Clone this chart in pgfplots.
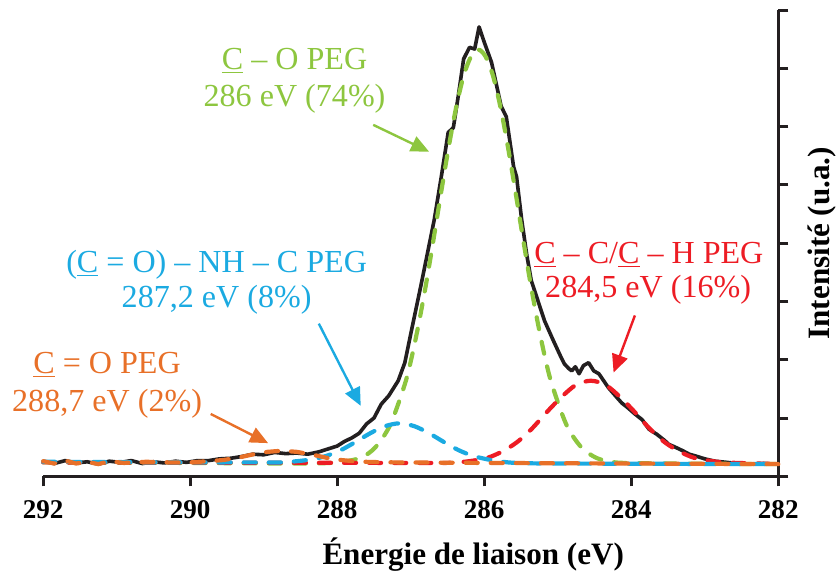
\documentclass[border=0pt]{standalone}
\usepackage{fontspec}
\setmainfont{Liberation Serif}
\usepackage{pgfplots}
\pgfplotsset{compat=1.18}
\usetikzlibrary{arrows.meta}
\definecolor{cgreen}{RGB}{141,198,63}
\definecolor{ccyan}{RGB}{27,170,225}
\definecolor{cred}{RGB}{237,28,36}
\definecolor{corange}{RGB}{232,112,40}
\definecolor{cblack}{RGB}{35,31,32}
\newcommand{\annfont}{\fontsize{16}{19}\selectfont}
\begin{document}
\begin{tikzpicture}
\begin{axis}[
 width=366.5pt, height=232.5pt, scale only axis,
 x dir=reverse, xmin=282, xmax=292, ymin=0, ymax=8,
 axis x line=bottom, axis y line=right,
 axis line style={-, line width=1.5pt, cblack},
 xtick={282,284,...,292}, ytick={0,1,...,8}, yticklabels={},
 tick align=outside, major tick length=5pt,
 tick style={line width=1.5pt, cblack},
 /pgf/number format/assume math mode=true,
 /pgf/number format/1000 sep={},
 xticklabel style={font=\bfseries\fontsize{13.5}{15}\selectfont, yshift=-3.5pt},
 xlabel={Énergie de liaison (eV)},
 xlabel style={font=\bfseries\fontsize{15.5}{18}\selectfont, inner sep=0pt, at={(axis description cs:0.585,-0.189)}, anchor=base},
 ylabel={Intensité (u.a.)},
 ylabel style={font=\bfseries\fontsize{15.5}{18}\selectfont, inner sep=0pt, at={(axis description cs:1.0396,0.5)}, anchor=north},
 clip=false,
 dashcurve/.style={line width=2.1pt, line cap=round, dash pattern=on 6pt off 6.5pt},
]
\path (axis description cs:-0.0587,-0.2086) rectangle (axis description cs:1.0532,1.0215);
% experimental spectrum
\addplot[cblack, line width=1.8pt, line join=round] coordinates {
(292.00,0.26)(291.85,0.22)(291.70,0.27)(291.55,0.23)(291.40,0.25)(291.25,0.21)
(291.10,0.26)(290.95,0.24)(290.80,0.27)(290.65,0.22)(290.50,0.25)(290.35,0.23)
(290.20,0.26)(290.05,0.24)(289.90,0.27)(289.75,0.27)(289.60,0.30)(289.45,0.31)
(289.30,0.34)(289.15,0.38)(289.00,0.37)(288.85,0.41)(288.70,0.39)(288.55,0.40)
(288.40,0.38)(288.25,0.42)(288.10,0.48)(288.00,0.52)(287.90,0.60)(287.80,0.66)
(287.70,0.74)(287.60,0.90)(287.50,1.00)(287.40,1.24)(287.30,1.38)(287.17,1.64)
(287.08,1.95)(286.99,2.50)(286.86,3.28)(286.68,4.40)(286.58,5.17)(286.49,5.90)
(286.42,5.98)(286.35,6.55)(286.28,7.16)(286.20,7.36)(286.13,7.33)(286.07,7.71)
(286.00,7.45)(285.90,7.10)(285.77,6.35)(285.70,6.17)(285.60,5.31)(285.56,5.14)
(285.49,4.40)(285.42,3.79)(285.36,3.36)(285.18,2.67)(285.06,2.33)(284.95,2.03)
(284.91,1.93)(284.85,1.85)(284.81,1.81)(284.76,1.88)(284.71,1.76)(284.65,1.90)
(284.58,1.95)(284.51,1.81)(284.44,1.76)(284.31,1.52)(284.20,1.36)(284.13,1.26)
(284.05,1.18)(283.95,1.07)(283.85,0.97)(283.76,0.81)(283.65,0.72)(283.55,0.62)
(283.49,0.55)(283.40,0.50)(283.30,0.44)(283.21,0.38)(283.10,0.34)(283.00,0.30)
(282.86,0.26)(282.70,0.24)(282.55,0.22)(282.40,0.21)(282.20,0.22)(282.08,0.21)
};
% C-O PEG
\addplot[cgreen, dashcurve, smooth] coordinates {
(292.0,0.24)(290.0,0.23)(288.5,0.22)(288.0,0.24)(287.68,0.32)(287.48,0.50)(287.28,0.88)
(287.08,1.58)(286.98,2.08)(286.88,2.69)(286.78,3.38)(286.68,4.14)(286.58,4.92)
(286.48,5.67)(286.38,6.34)(286.28,6.87)(286.18,7.20)(286.08,7.32)(285.98,7.20)
(285.88,6.87)(285.78,6.34)(285.68,5.67)(285.58,4.92)(285.48,4.14)(285.38,3.38)
(285.28,2.69)(285.18,2.08)(285.08,1.58)(284.88,0.88)(284.68,0.50)(284.48,0.32)
(284.28,0.25)(284.08,0.23)(283.5,0.22)(282.0,0.21)
};
% C-C / C-H PEG
\addplot[cred, dashcurve, smooth] coordinates {
(292.0,0.24)(287.0,0.23)(286.55,0.23)(286.35,0.24)(286.15,0.27)(285.95,0.32)
(285.75,0.43)(285.55,0.59)(285.35,0.82)(285.15,1.10)(284.95,1.36)(284.75,1.57)
(284.55,1.64)(284.35,1.57)(284.15,1.36)(283.95,1.10)(283.75,0.82)(283.55,0.59)
(283.35,0.43)(283.15,0.32)(282.95,0.27)(282.75,0.24)(282.55,0.23)(282.0,0.21)
};
% (C=O)-NH-C PEG
\addplot[ccyan, dashcurve, smooth] coordinates {
(292.0,0.25)(290.0,0.24)(289.15,0.24)(288.75,0.24)(288.55,0.26)(288.35,0.29)
(288.15,0.35)(287.95,0.45)(287.75,0.59)(287.55,0.74)(287.35,0.86)(287.15,0.91)
(286.95,0.86)(286.75,0.74)(286.55,0.59)(286.35,0.45)(286.15,0.35)(285.95,0.29)
(285.75,0.25)(285.55,0.23)(285.0,0.22)(282.0,0.21)
};
% C=O PEG
\addplot[corange, dashcurve] coordinates {
(292.0,0.26)(291.85,0.22)(291.70,0.27)(291.55,0.22)(291.40,0.25)(291.25,0.21)
(291.10,0.26)(290.90,0.23)(290.60,0.25)(290.30,0.24)(290.00,0.24)(289.75,0.26)
(289.55,0.28)(289.35,0.32)(289.15,0.375)(288.95,0.42)(288.75,0.44)(288.55,0.42)
(288.35,0.375)(288.15,0.32)(287.95,0.28)(287.75,0.257)(287.55,0.246)(287.25,0.24)
(286.0,0.23)(282.0,0.21)
};
% annotations
\node[cgreen, font=\annfont, anchor=base] at (axis cs:288.58,6.98) {\underline{C} – O PEG};
\node[cgreen, font=\annfont, anchor=base] at (axis cs:288.58,6.34) {286 eV (74\%)};
\draw[cgreen, line width=1.2pt, -{Triangle[length=9pt,width=8pt]}] (axis cs:287.51,6.03) -- (axis cs:286.75,5.57);
\node[ccyan, font=\annfont, anchor=base] at (axis cs:289.64,3.50) {(\underline{C} = O) – NH – C PEG};
\node[ccyan, font=\annfont, anchor=base] at (axis cs:289.64,2.90) {287,2 eV (8\%)};
\draw[ccyan, line width=1.2pt, -{Triangle[length=9pt,width=8pt]}] (axis cs:288.25,2.62) -- (axis cs:287.68,1.21);
\node[corange, font=\annfont, anchor=base] at (axis cs:291.13,1.76) {\underline{C} = O PEG};
\node[corange, font=\annfont, anchor=base] at (axis cs:291.13,1.12) {288,7 eV (2\%)};
\draw[corange, line width=1.2pt, -{Triangle[length=9pt,width=8pt]}] (axis cs:289.72,1.07) -- (axis cs:288.94,0.57);
\node[cred, font=\annfont, anchor=base] at (axis cs:283.76,3.66) {\underline{C} – C/\underline{C} – H PEG};
\node[cred, font=\annfont, anchor=base] at (axis cs:283.77,3.07) {284,5 eV (16\%)};
\draw[cred, line width=1.2pt, -{Triangle[length=9pt,width=8pt]}] (axis cs:283.95,2.76) -- (axis cs:284.24,1.78);
\end{axis}
\end{tikzpicture}
\end{document}
